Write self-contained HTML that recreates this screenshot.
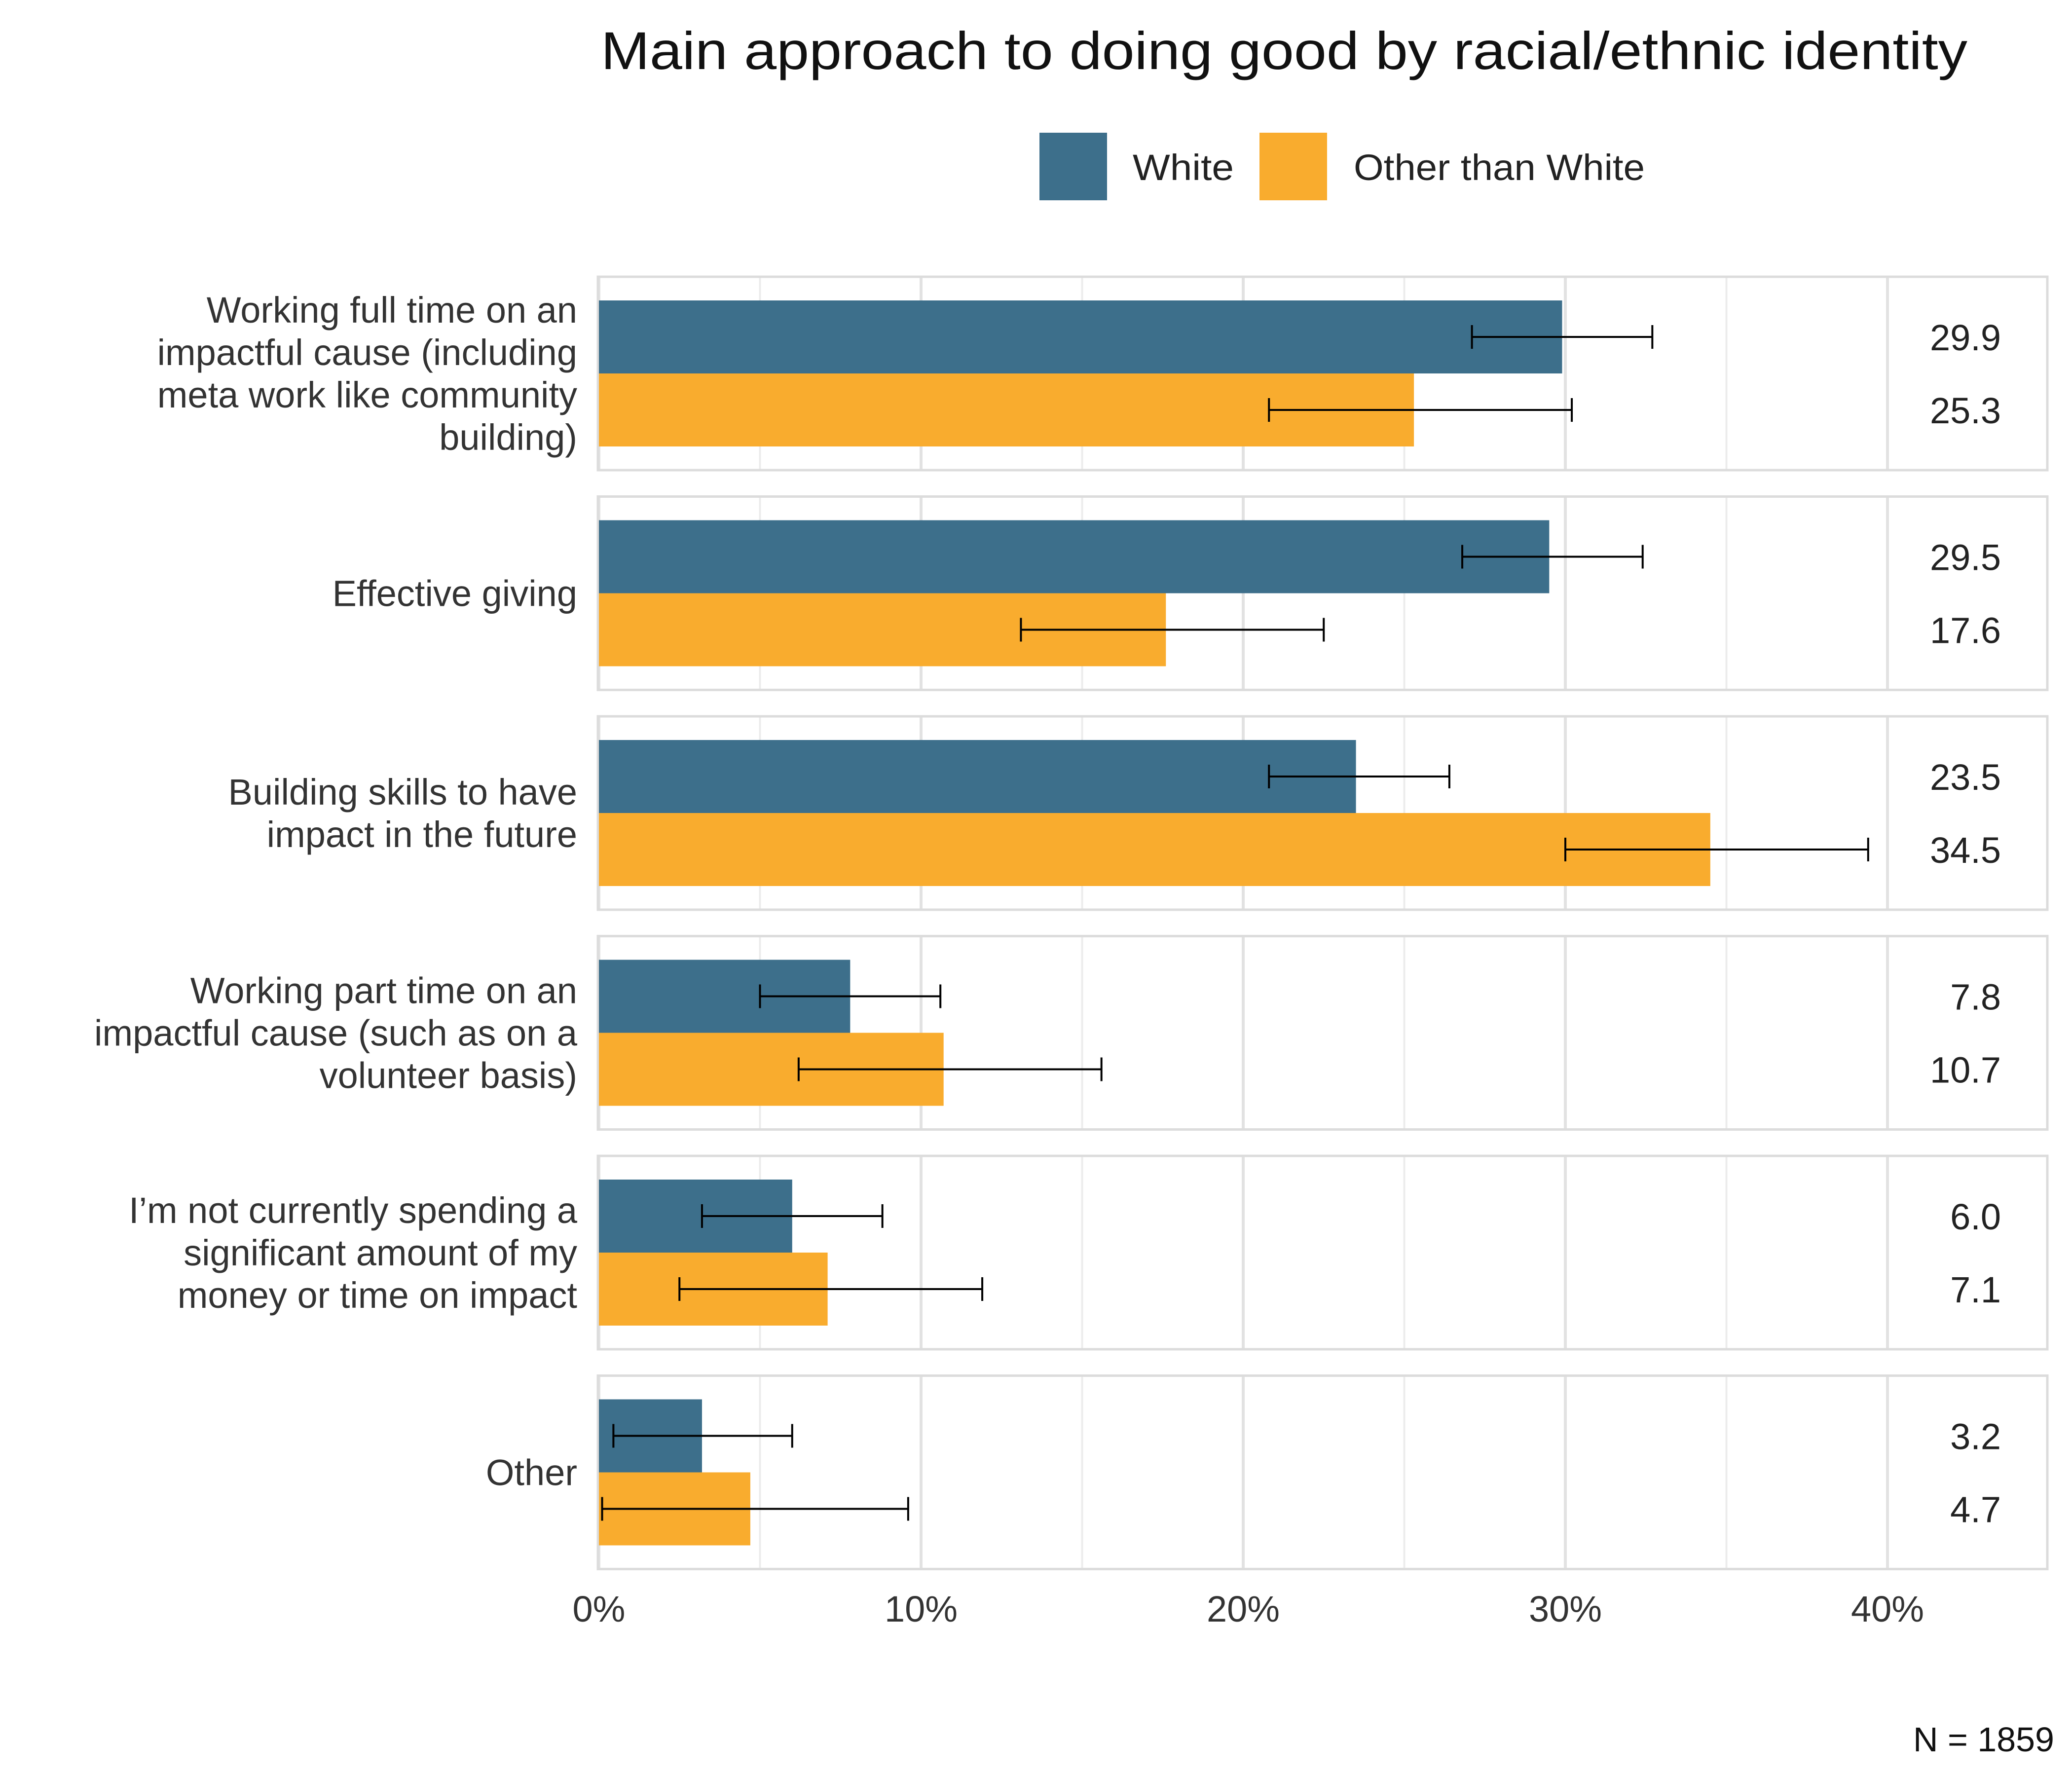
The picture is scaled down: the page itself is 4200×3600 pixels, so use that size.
<!DOCTYPE html>
<html><head><meta charset="utf-8">
<style>
html,body{margin:0;padding:0;background:#fff;}
svg{display:block;font-family:"Liberation Sans",sans-serif;}
</style></head>
<body>
<svg id="chart" width="4200" height="3600" viewBox="0 0 4200 3600" xmlns="http://www.w3.org/2000/svg">
<text x="1218" y="140" font-size="108" fill="#111" textLength="2770" lengthAdjust="spacingAndGlyphs">Main approach to doing good by racial/ethnic identity</text>
<rect x="2107" y="269" width="137" height="137" fill="#3d6f8b"/>
<text x="2296" y="365" font-size="74" fill="#222" textLength="205" lengthAdjust="spacingAndGlyphs">White</text>
<rect x="2553" y="269" width="137" height="137" fill="#f9ac2e"/>
<text x="2744" y="365" font-size="74" fill="#222" textLength="590" lengthAdjust="spacingAndGlyphs">Other than White</text>
<g id="plot"></g>
<text x="4164" y="3550" font-size="70" fill="#111" text-anchor="end">N = 1859</text>
</svg>
<script>
const categories = [
  ["Working full time on an","impactful cause (including","meta work like community","building)"],
  ["Effective giving"],
  ["Building skills to have","impact in the future"],
  ["Working part time on an","impactful cause (such as on a","volunteer basis)"],
  ["I\u2019m not currently spending a","significant amount of my","money or time on impact"],
  ["Other"]
];
const whiteValues = [29.9, 29.5, 23.5, 7.8, 6.0, 3.2];
const otherValues = [25.3, 17.6, 34.5, 10.7, 7.1, 4.7];
const whiteLow = [27.1, 26.8, 20.8, 5.0, 3.2, 0.45];
const whiteHigh = [32.7, 32.4, 26.4, 10.6, 8.8, 6.0];
const otherLow = [20.8, 13.1, 30.0, 6.2, 2.5, 0.1];
const otherHigh = [30.2, 22.5, 39.4, 15.6, 11.9, 9.6];
const xTicks = [0, 10, 20, 30, 40];
const xTickLabels = ["0%", "10%", "20%", "30%", "40%"];

const NS = "http://www.w3.org/2000/svg";
const plot = document.getElementById("plot");
const X0 = 1214, PX = 65.3, PL = 1212, PR = 4150;
const x = v => X0 + v * PX;
const panelTop = i => 561 + i * 445.5;
const PH = 392, BH = 148, BOFF = 48;
function mk(tag, attrs, parent) {
  const e = document.createElementNS(NS, tag);
  for (const k in attrs) e.setAttribute(k, attrs[k]);
  (parent || plot).appendChild(e);
  return e;
}
categories.forEach((cat, i) => {
  const t = panelTop(i);
  const g = mk("g", {});
  
  
  for (let v = 0; v <= 45; v += 5) {
    if (x(v) > PR) break;
    const l = mk("line", {x1: x(v), x2: x(v), y1: t, y2: t + PH, stroke: v % 10 === 0 ? "#e2e2e2" : "#ececec", "stroke-width": v % 10 === 0 ? 6 : 4}, g);
    
    
  }
  const fr = mk("rect", {x: PL, y: t, width: PR - PL, height: PH, fill: "none", stroke: "#dcdcdc", "stroke-width": 5}, g);
  
  
  const series = [
    {v: whiteValues[i], lo: whiteLow[i], hi: whiteHigh[i], c: "#3d6f8b", n: "white"},
    {v: otherValues[i], lo: otherLow[i], hi: otherHigh[i], c: "#f9ac2e", n: "other"}
  ];
  series.forEach((s, j) => {
    const by = t + BOFF + j * BH;
    const b = mk("rect", {x: x(0), y: by, width: x(s.v) - x(0), height: BH, fill: s.c}, g);
    
    
    const cy = by + BH / 2;
    const eg = mk("g", {stroke: "#000", "stroke-width": 4}, g);
    
    
    mk("line", {x1: x(s.lo), x2: x(s.hi), y1: cy, y2: cy}, eg);
    mk("line", {x1: x(s.lo), x2: x(s.lo), y1: cy - 24, y2: cy + 24}, eg);
    mk("line", {x1: x(s.hi), x2: x(s.hi), y1: cy - 24, y2: cy + 24}, eg);
    const vt = mk("text", {x: 4056, y: cy + 27, "font-size": 74, fill: "#222", "text-anchor": "end"}, g);
    vt.textContent = s.v.toFixed(1);
    
    
  });
  const cy = t + PH / 2;
  const lh = 86;
  const tx = mk("text", {"font-size": 74, fill: "#333", "text-anchor": "end"});
  
  
  cat.forEach((line, k) => {
    const ts = mk("tspan", {x: 1170, y: cy + (k - (cat.length - 1) / 2) * lh + 26}, tx);
    ts.textContent = line;
  });
});
xTicks.forEach((v, k) => {
  const tt = mk("text", {x: x(v), y: 3287, "font-size": 74, fill: "#333", "text-anchor": "middle"});
  tt.textContent = xTickLabels[k];
  
  
});
</script>
</body></html>
